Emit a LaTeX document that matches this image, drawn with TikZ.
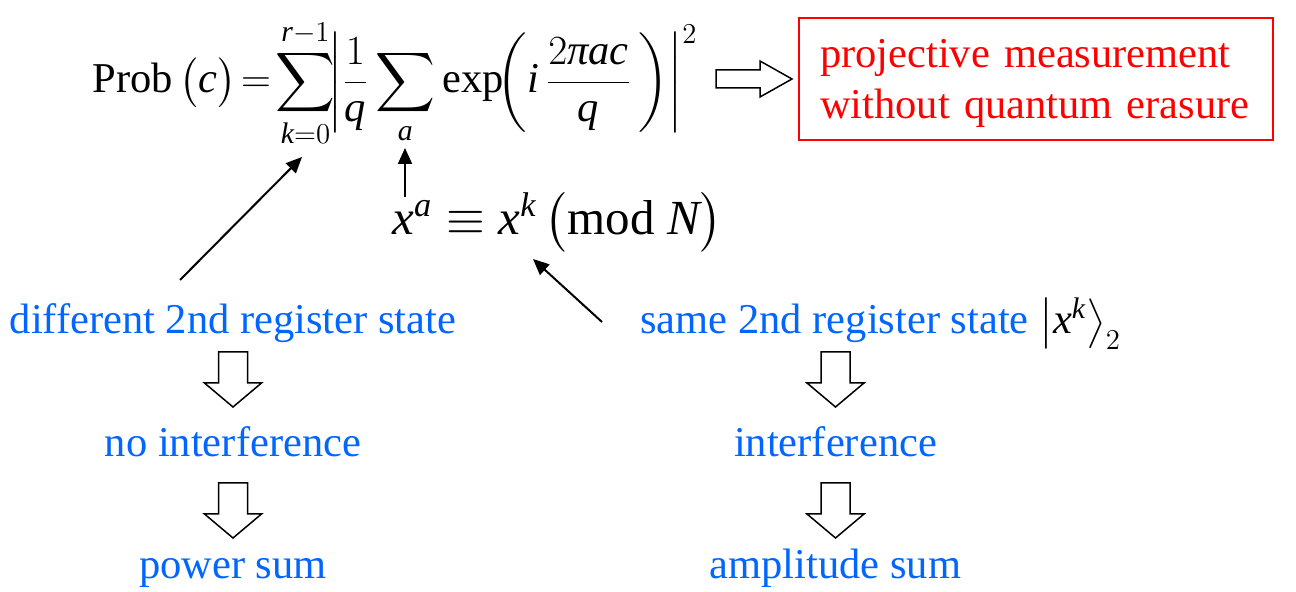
\documentclass[tikz,border=0pt]{standalone}
\usepackage{amsmath}
\usepackage{fontspec}
\setmainfont{LiberationSerif}[Extension=.ttf, UprightFont=*-Regular,
  ItalicFont=*-Italic, BoldFont=*-Bold, BoldItalicFont=*-BoldItalic]
\usetikzlibrary{arrows.meta}
\DeclareSymbolFont{slideletters}{TU}{\rmdefault}{m}{it}
\DeclareMathSymbol{a}{\mathalpha}{slideletters}{`a}
\DeclareMathSymbol{c}{\mathalpha}{slideletters}{`c}
\DeclareMathSymbol{i}{\mathalpha}{slideletters}{`i}
\DeclareMathSymbol{k}{\mathalpha}{slideletters}{`k}
\DeclareMathSymbol{q}{\mathalpha}{slideletters}{`q}
\DeclareMathSymbol{r}{\mathalpha}{slideletters}{`r}
\DeclareMathSymbol{x}{\mathalpha}{slideletters}{`x}
\DeclareMathSymbol{N}{\mathalpha}{slideletters}{`N}
\Umathchardef\slidepi="0 \symslideletters "03C0
\definecolor{slideblue}{HTML}{0066FF}
\definecolor{slidered}{HTML}{FF0000}
\newcommand{\slidesize}{\fontsize{21.25}{25.5}\selectfont}

\begin{document}
\begin{tikzpicture}[
  x=0.5pt,
  y=-0.5pt,
  every node/.style={font=\slidesize, inner sep=0pt},
  note/.style={slideblue, anchor=base},
  pointer/.style={line width=1pt, -{Triangle[length=8pt,width=7pt]}},
  hollow/.style={line width=0.75pt, fill=white, line join=miter},
  downarrow/.pic={\draw[hollow] (-14.5,0) -- (14.5,0) -- (14.5,31)
      -- (28.5,31) -- (0,55) -- (-28.5,31) -- (-14.5,31) -- cycle;},
  rightarrow/.pic={\draw[hollow] (0,-9) -- (44,-9) -- (44,-18)
      -- (76,0) -- (44,18) -- (44,9) -- (0,9) -- cycle;}
]
  \useasboundingbox (0,0) rectangle (1296,592);

  % ---- the probability formula -------------------------------------------
  \node[anchor=base west] (prob) at (92,93)
    {$\displaystyle \mathrm{Prob}\,\bigl(c\bigr)\!=\!\sum_{k=0}^{r-1}\!
      \biggl|\frac{1}{q}\sum_{a}\exp\!\biggl(i\,\frac{2\slidepi ac}{q}\,\biggr)
      \biggr|^{2}$};

  % ---- to the red box ----------------------------------------------------
  \pic at (716,79) {rightarrow};
  \node[draw=slidered, line width=1pt, minimum width=237pt,
        minimum height=61pt] (erasure) at (1036,79) {};
  \node[slidered, align=left, text width=216pt, yshift=-2pt]
    (erasureText) at (erasure.center)
    {projective measurement\\without quantum erasure};

  % ---- the congruence under the inner sum --------------------------------
  \node[anchor=base west, font=\fontsize{24.5}{29}\selectfont] (congr)
    at (392,235)
    {$x^{a}\equiv x^{k}\,\bigl(\mathrm{mod}\ N\bigr)$};
  \coordinate (aTail) at (405,197);
  \coordinate (aSum) at (405,148);
  \draw[pointer] (aTail) -- (aSum);

  % ---- left column: different states -------------------------------------
  \node[note] (diffstate) at (233,334) {different 2nd register state};
  \pic at (233,352) {downarrow};
  \node[note] (nointerf) at (233,457) {no interference};
  \pic at (233,483) {downarrow};
  \node[note] (powersum) at (233,579) {power sum};

  \coordinate (diffTail) at (180,280);
  \coordinate (kSum) at (302,157);
  \draw[pointer] (diffTail) -- (kSum);

  % ---- right column: same state ------------------------------------------
  \node[anchor=base west] (samestate) at (640,334)
    {\textcolor{slideblue}{same 2nd register state}\
      $\left|x^{k}\right\rangle_{2}$};
  \pic at (835.5,352) {downarrow};
  \node[note] (interf) at (835.5,457) {interference};
  \pic at (835.5,483) {downarrow};
  \node[note] (ampsum) at (835.5,579) {amplitude sum};

  \coordinate (sameTail) at (602,322);
  \coordinate (xkPow) at (533,259);
  \draw[pointer] (sameTail) -- (xkPow);
\end{tikzpicture}
\end{document}
